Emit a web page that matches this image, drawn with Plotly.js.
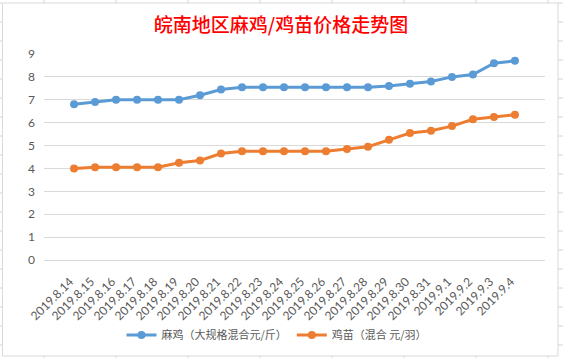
<!DOCTYPE html>
<html><head><meta charset="utf-8">
<script src="https://cdn.plot.ly/plotly-3.0.1.min.js"></script>
<style>html,body{margin:0;padding:0;background:#fff;}</style>
</head><body>
<div id="chart" style="width:563px;height:358px;"></div>
<script>
const dates = ["2019.8.14","2019.8.15","2019.8.16","2019.8.17","2019.8.18","2019.8.19","2019.8.20","2019.8.21","2019.8.22","2019.8.23","2019.8.24","2019.8.25","2019.8.26","2019.8.27","2019.8.28","2019.8.29","2019.8.30","2019.8.31","2019.9.1","2019.9.2","2019.9.3","2019.9.4"];
const maji = [6.8,6.9,7.0,7.0,7.0,7.0,7.2,7.45,7.55,7.55,7.55,7.55,7.55,7.55,7.55,7.6,7.7,7.8,8.0,8.1,8.6,8.7];
const jimiao = [4.0,4.05,4.05,4.05,4.05,4.25,4.35,4.65,4.75,4.75,4.75,4.75,4.75,4.85,4.95,5.25,5.55,5.65,5.85,6.15,6.25,6.35];
const seriesNames = ["麻鸡（大规格混合元/斤）","鸡苗（混合 元/羽）"];
const titleText = "皖南地区麻鸡/鸡苗价格走势图";

const W = 563, H = 358, L = 44, R = 18, T = 54, B = 98;
const pw = W - L - R, ph = H - T - B;
const px = x => (x - L) / pw;
const py = y => (H - B - y) / ph;

const shapes = [];
const sheetLine = {color:"#D4D4D4", width:1};
for (let x = 44; x < W; x += 72) {
  shapes.push({type:"line", xref:"paper", yref:"paper", x0:px(x), x1:px(x), y0:py(0), y1:py(3), line:sheetLine});
  shapes.push({type:"line", xref:"paper", yref:"paper", x0:px(x), x1:px(x), y0:py(356), y1:py(H), line:sheetLine});
}
for (let y = 3; y < H; y += 19) {
  shapes.push({type:"line", xref:"paper", yref:"paper", x0:px(0), x1:px(2), y0:py(y), y1:py(y), line:sheetLine});
  shapes.push({type:"line", xref:"paper", yref:"paper", x0:px(558), x1:px(W), y0:py(y), y1:py(y), line:sheetLine});
}
shapes.push({type:"rect", xref:"paper", yref:"paper", x0:px(2.5), x1:px(558), y0:py(3), y1:py(356), line:{color:"#D9D9D9", width:1}, layer:"below"});

const font = {family:"Lato, 'Noto Sans CJK SC', sans-serif", size:12, color:"#595959"};

const traces = [
  {x:dates, y:maji, name:seriesNames[0], type:"scatter", mode:"lines+markers",
   line:{color:"#5B9BD5", width:3}, marker:{color:"#5B9BD5", size:8}},
  {x:dates, y:jimiao, name:seriesNames[1], type:"scatter", mode:"lines+markers",
   line:{color:"#ED7D31", width:3}, marker:{color:"#ED7D31", size:8}}
];

const layout = {
  width:W, height:H,
  margin:{l:L, r:R, t:T, b:B, pad:0},
  paper_bgcolor:"#ffffff", plot_bgcolor:"#ffffff",
  font:font,
  title:{text:titleText, x:281/W, xref:"container", xanchor:"center", y:1-25/H, yref:"container", yanchor:"middle",
         font:{family:"'Noto Sans CJK SC Medium', 'Noto Sans CJK SC', sans-serif", size:19, color:"#FF0000", weight:500}},
  xaxis:{type:"category", tickangle:-45, showgrid:false, showline:true, linecolor:"#D9D9D9", linewidth:1,
         ticks:"", ticklabelshift:-4, ticklabelstandoff:9,
         tickfont:{family:"Lato, sans-serif", size:12, color:"#595959"}, automargin:false, fixedrange:true},
  yaxis:{range:[0,9], dtick:1, tick0:0, showgrid:true, gridcolor:"#D9D9D9", gridwidth:1, zeroline:false,
         showline:false, ticks:"", ticklabelstandoff:8, tickfont:{family:"Lato, sans-serif", size:12, color:"#595959"}, automargin:false},
  showlegend:true,
  legend:{orientation:"h", xref:"container", yref:"container", x:277/W, xanchor:"center", y:1-335/H, yanchor:"middle",
          font:{family:"'Noto Sans CJK SC', sans-serif", size:11, color:"#595959"}, itemwidth:30, tracegroupgap:0},
  shapes:shapes
};

Plotly.newPlot("chart", traces, layout, {staticPlot:true, displayModeBar:false});
</script>
</body></html>
